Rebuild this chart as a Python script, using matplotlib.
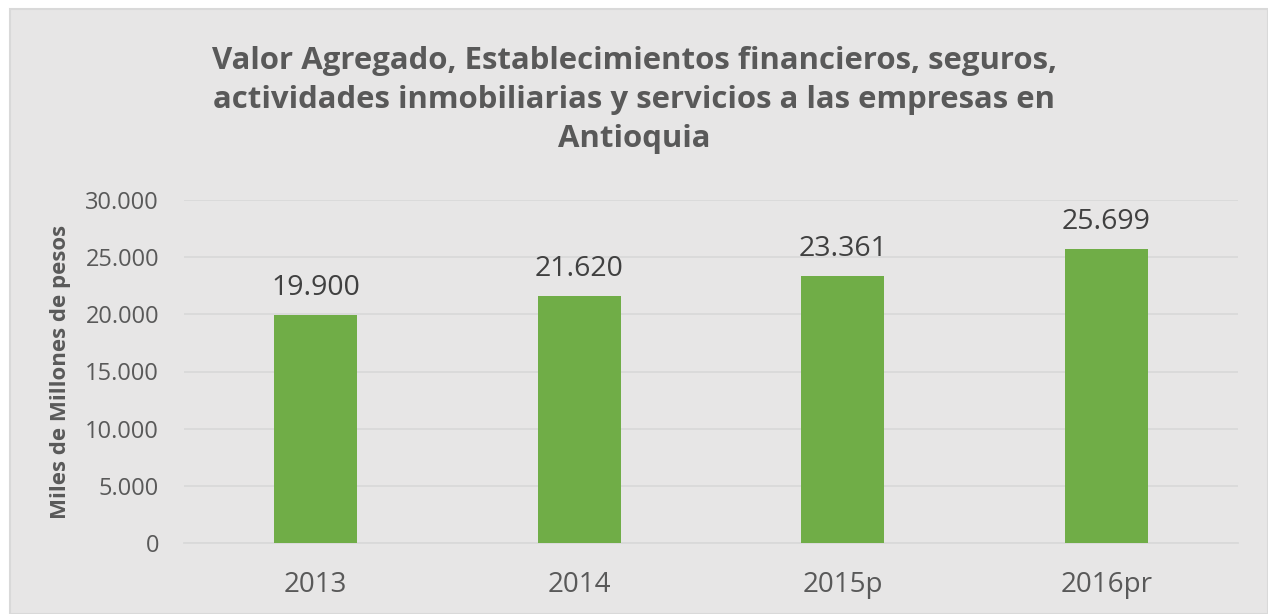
import matplotlib
matplotlib.use("Agg")
import matplotlib.pyplot as plt
from matplotlib.patches import Rectangle
from matplotlib.ticker import FuncFormatter

categories = ["2013", "2014", "2015p", "2016pr"]
values = [19900, 21620, 23361, 25699]
y_ticks = [0, 5000, 10000, 15000, 20000, 25000, 30000]

title = ("Valor Agregado, Establecimientos financieros, seguros,\n"
         "actividades inmobiliarias y servicios a las empresas en\n"
         "Antioquia")
ylabel = "Miles de Millones de pesos"

def fmt(v):
    return f"{int(v):,}".replace(",", ".")

plt.rcParams['font.family'] = ['Open Sans', 'DejaVu Sans']

fig = plt.figure(figsize=(12.68, 6.14), dpi=100)
fig.patch.set_facecolor("white")
bg = Rectangle((10/1268, 0), 1 - 10/1268, 1 - 9/614, transform=fig.transFigure,
               facecolor="#E7E6E6", edgecolor="#D9D9D9", linewidth=1.5, zorder=-10)
fig.patches.append(bg)

ax = fig.add_axes([184/1268, 71/614, 1054/1268, 343/614])
ax.set_zorder(5)
ax.set_facecolor("none")
x = list(range(len(categories)))
ax.bar(x, values, width=0.315, color="#70AD47", zorder=3)
for xi, v in zip(x, values):
    ax.annotate(fmt(v), (xi, v), xytext=(0, 14.5), textcoords="offset points",
                ha="center", va="baseline", fontsize=20.5, color="#404040")

ax.set_xlim(-0.5, len(categories) - 0.5)
ax.set_ylim(0, 30000)
ax.set_yticks(y_ticks)
ax.yaxis.set_major_formatter(FuncFormatter(lambda v, p: fmt(v)))
ax.set_xticks(x)
ax.set_xticklabels(categories)
ax.grid(axis="y", color="#D9D9D9", linewidth=1.3, zorder=0)
for s in ["top", "right", "left"]:
    ax.spines[s].set_visible(False)
ax.spines["bottom"].set_color("#D9D9D9")
ax.spines["bottom"].set_linewidth(1.3)
ax.tick_params(axis="both", length=0, colors="#595959")
ax.tick_params(axis="y", labelsize=17, pad=18)
ax.tick_params(axis="x", labelsize=20, pad=20)
ax.set_ylabel(ylabel, fontsize=16, fontweight="bold", color="#595959", labelpad=10)

fig.text(634/1268, 1 - 100/614, title, ha="center", va="center", fontsize=22.4,
         fontweight="bold", color="#595959", linespacing=1.41)

fig.savefig("out.png", dpi=100, facecolor=fig.get_facecolor())
